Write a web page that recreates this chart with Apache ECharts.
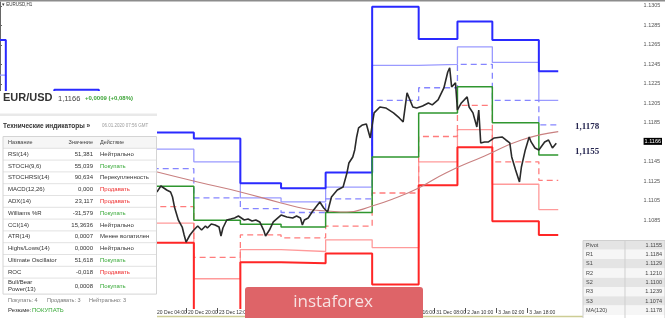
<!DOCTYPE html>
<html><head><meta charset="utf-8">
<script src="https://cdn.jsdelivr.net/npm/echarts@6/dist/echarts.min.js"></script>
<style>html,body{margin:0;padding:0;background:#fff}#c{width:665px;height:318px}</style>
</head><body><div id="c"></div>
<script>
// ---- data: hourly bar index on the x axis ----
const dayStart = [0, 3, 28, 51, 76, 100, 124, 145, 168, 192, 216, 236, 254, 278];
const lastBar = 288;
const levelR3 = [1.1270, 1.1213, 1.1219, 1.1205, 1.1175, 1.1169, 1.1123, 1.1118, 1.1134, 1.1304, 1.1271, 1.1289, 1.1270, 1.1238];
const levelR2 = [1.1234, 1.1190, 1.1195, 1.1185, 1.1158, 1.1145, 1.1108, 1.1104, 1.1119, 1.1244, 1.1245, 1.1263, 1.1247, 1.1208];
const levelR1 = [1.1205, 1.1170, 1.1172, 1.1165, 1.1138, 1.1108, 1.1097, 1.1093, 1.1107, 1.1208, 1.1221, 1.1245, 1.1208, 1.1183];
const levelP  = [1.1170, 1.1145, 1.1150, 1.1140, 1.1120, 1.1085, 1.1081, 1.1078, 1.1093, 1.1150, 1.1195, 1.1222, 1.1185, 1.1152];
const levelS1 = [1.1140, 1.1120, 1.1125, 1.1118, 1.1099, 1.1047, 1.1070, 1.1067, 1.1079, 1.1113, 1.1171, 1.1203, 1.1145, 1.1126];
const levelS2 = [1.1105, 1.1095, 1.1100, 1.1095, 1.1082, 1.1025, 1.1055, 1.1053, 1.1065, 1.1057, 1.1145, 1.1178, 1.1122, 1.1096];
const levelS3 = [1.1075, 1.1070, 1.1075, 1.1070, 1.1062, 1.0987, 1.1042, 1.1041, 1.1051, 1.1019, 1.1121, 1.1160, 1.1084, 1.1070];

const priceIdx = [77,79,81,83,86,88,89,90,92,94,95,96,98,100,102,104,106,107,109,111,113,114,115,117,119,121,123,124,126,128,130,132,134,136,137,139,141,142,145,148,151,153,155,156,157,159,161,163,165,167,169,171,174,177,179,180,182,183,184,185,187,189,191,193,196,199,203,206,208,210,213,215,218,221,223,226,229,231,232,233,235,236,238,241,242,244,246,247,248,250,252,255,259,261,263,264,266,268,269,271,273,274,276,278,281,283,285,287];
const priceVal = [1.11161,1.1118,1.11141,1.11202,1.11161,1.11141,1.11089,1.10987,1.10853,1.10781,1.10699,1.10627,1.10699,1.10750,1.10792,1.10750,1.10792,1.10771,1.10812,1.10802,1.10781,1.10689,1.10771,1.10853,1.10863,1.10874,1.10894,1.10884,1.10853,1.10863,1.10843,1.10853,1.10833,1.10750,1.10689,1.10750,1.10833,1.10853,1.10904,1.10884,1.10874,1.10894,1.10874,1.10802,1.10853,1.10874,1.10935,1.10987,1.11038,1.10976,1.10935,1.11089,1.11161,1.11192,1.11336,1.11438,1.11500,1.11572,1.11705,1.11798,1.11828,1.11839,1.11695,1.11952,1.12013,1.12003,1.11952,1.11900,1.11859,1.12157,1.12013,1.12003,1.12023,1.12054,1.12034,1.12085,1.12208,1.12372,1.12414,1.12218,1.12260,1.11982,1.12054,1.12116,1.12013,1.11952,1.11808,1.11982,1.11644,1.11654,1.11654,1.11695,1.11705,1.11674,1.11644,1.11500,1.11366,1.11243,1.11397,1.11572,1.11705,1.11654,1.11592,1.11572,1.11654,1.11674,1.11592,1.11640];

const maIdx = [77,102,124,145,158,169,179,192,204,216,230,250,269,288];
const maVal = [1.11366,1.11243,1.11141,1.11028,1.10966,1.10946,1.10935,1.10997,1.11079,1.11182,1.11336,1.11510,1.11674,1.11760];

const currentPrice = 1.1166;
const yTicks = [1.1085,1.1105,1.1125,1.1145,currentPrice,1.1185,1.1205,1.1225,1.1245,1.1265,1.1285,1.1305];
const xTickIdx = [80,96,112,128,144,160,176,192,208,224,240,256,272];
const xTickLabels = ['20 Dec 04:00','20 Dec 20:00','23 Dec 12:00','24 Dec 04:00','24 Dec 20:00','26 Dec 12:00','27 Dec 04:00','27 Dec 20:00','30 Dec 16:00','31 Dec 08:00','2 Jan 10:00','3 Jan 02:00','3 Jan 18:00'];

const indNames = ['RSI(14)','STOCH(9,6)','STOCHRSI(14)','MACD(12,26)','ADX(14)','Williams %R','CCI(14)','ATR(14)','Highs/Lows(14)','Ultimate Oscillator','ROC','Bull/Bear\nPower(13)'];
const indValues = ['51,381','55,039','90,634','0,000','23,117','-31,579','15,3636','0,0007','0,0000','51,618','-0,018','0,0008'];
const indActions = ['Нейтрально','Покупать','Перекупленность','Продавать','Продавать','Покупать','Нейтрально','Менее волатилен','Нейтрально','Покупать','Продавать','Покупать'];
const pivotNames = ['Pivot','R1','S1','R2','S2','R3','S3','MA(120)'];
const pivotValues = ['1.1155','1.1184','1.1129','1.1210','1.1100','1.1239','1.1074','1.1178'];
const noteLevels = ['1,1178','1,1155'];

// ---- build ----
function steps(arr){ const d = dayStart.map((x,i)=>[x, arr[i]]); d.push([lastBar, arr[arr.length-1]]); return d; }
function levelSeries(name, arr, color, width, type){
  return {name, type:'line', step:'end', data:steps(arr), showSymbol:false, silent:true, z:2,
    lineStyle:{color, width, type: type || 'solid'}};
}
const FONT = '"Liberation Sans", Arial, sans-serif';
const G = [];
function rect(x,y,w,h,fill,stroke){ G.push({type:'rect', z:99, shape:{x,y,width:w,height:h}, style:{fill:fill||'transparent', stroke:stroke||'transparent', lineWidth:stroke?1:0}}); }
function hline(x1,y1,x2,y2,color,w){ G.push({type:'line', z:99, shape:{x1,y1,x2,y2}, style:{stroke:color, lineWidth:w||1}}); }
function txt(x,y,text,opt){ G.push({type:'text', z:100, x, y, style:Object.assign({text, fontSize:6, fontFamily:FONT, fill:'#333', align:'left', verticalAlign:'middle'}, opt||{})}); }

// top bar
rect(0,0,665,1.5,'#8c8c8c');
txt(2,5,'▾ EURUSD,H1',{fontSize:4.5,fill:'#333'});
// header + indicator panel
rect(0,91,157,227,'#ffffff');
txt(3,98,'EUR/USD',{fontSize:11,fontWeight:'bold',fill:'#333'});
txt(58,98.5,'1,1166',{fontSize:7.5,fill:'#444'});
txt(85,98.5,'+0,0009 (+0,08%)',{fontSize:6,fontWeight:'bold',fill:'#3ba336'});
rect(0,113.5,157,2.5,'#e9e9e9');
txt(3,126,'Технические индикаторы »',{fontSize:6.5,fontWeight:'bold',fill:'#333'});
txt(102,126,'06.01.2020 07:56 GMT',{fontSize:4.5,fill:'#9a9a9a'});
const rowH = 11.8, tTop = 136.5;
rect(3,tTop,153.5,rowH,'#f6f6f6');
txt(8,tTop+rowH/2,'Название',{fontSize:5.5,fill:'#444'});
txt(93,tTop+rowH/2,'Значение',{fontSize:5.5,fill:'#444',align:'right'});
txt(100,tTop+rowH/2,'Действие',{fontSize:5.5,fill:'#444'});
indNames.forEach((n,i)=>{
  const top = tTop + rowH*(i+1);
  const h = (i === indNames.length-1) ? 16 : rowH;
  hline(3,top,156.5,top,'#e2e2e2',1);
  const cy = top + h/2;
  const a = indActions[i];
  const col = a === 'Покупать' ? '#36a836' : (a === 'Продавать' ? '#ee2c2c' : '#333');
  txt(8,cy,n,{fontSize:6,fill:'#333',lineHeight:7.2});
  txt(93,cy,indValues[i],{fontSize:6,fill:'#333',align:'right'});
  txt(100,cy,a,{fontSize:6,fill:col});
});
const tBottom = tTop + rowH*indNames.length + 16;
rect(3,tTop,153.5,tBottom-tTop,null,'#d4d4d4');
txt(8,300.7,'Покупать: 4',{fontSize:5.5,fill:'#777'});
txt(47,300.7,'Продавать: 3',{fontSize:5.5,fill:'#777'});
txt(89,300.7,'Нейтрально: 3',{fontSize:5.5,fill:'#777'});
txt(8,310,'Резюме:',{fontSize:6,fill:'#333'});
txt(32,310,'ПОКУПАТЬ',{fontSize:6,fill:'#36a836'});
// bottom strip
hline(157,316.5,583,316.5,'#cdcd95',1.5);
// watermark
G.push({type:'rect', z:99, shape:{x:245,y:287,width:178,height:32,r:[3,3,0,0]}, style:{fill:'#de6468'}});
txt(333,302,'instaforex',{fontSize:17,fill:'#f7e2e2',align:'center',fontFamily:'"Open Sans", sans-serif'});
// pivot table
pivotNames.forEach((n,i)=>{
  const top = 240.5 + i*9.3;
  rect(583,top,82,9.3,i%2===0?'#e4e4e4':'#f6f6f6');
  txt(586,top+4.8,n,{fontSize:5.5,fill:'#444'});
  txt(662,top+4.8,pivotValues[i],{fontSize:5.5,fill:'#444',align:'right'});
});
hline(625,240.5,625,318,'#cfcfcf',1);
rect(583,240.5,82,78,null,'#cfcfcf');
// annotations
txt(575,127,noteLevels[0],{fontSize:9,fontWeight:'bold',fill:'#25254f',fontFamily:'"Liberation Serif", serif'});
txt(575,152,noteLevels[1],{fontSize:9,fontWeight:'bold',fill:'#25254f',fontFamily:'"Liberation Serif", serif'});

const chart = echarts.init(document.getElementById('c'), null, {renderer:'canvas'});
chart.setOption({
  animation:false,
  backgroundColor:'#ffffff',
  grid:{left:0,right:17,top:2,bottom:10},
  xAxis:{type:'value',min:0,max:331,splitLine:{show:false},
    axisLine:{show:false},
    axisTick:{show:true,customValues:xTickIdx,length:5,lineStyle:{color:'#555',width:1}},
    axisLabel:{customValues:xTickIdx,fontSize:5,color:'#333',align:'left',margin:2.5,padding:[0,0,0,2],fontFamily:FONT,
      formatter:v=>{const k=xTickIdx.indexOf(Math.round(v));return k>=0?xTickLabels[k]:'';}}},
  yAxis:{type:'value',position:'right',min:1.0995,max:1.1309,scale:true,splitLine:{show:false},
    axisLine:{show:true,lineStyle:{color:'#666',width:1}},
    axisTick:{show:true,customValues:yTicks,length:2,lineStyle:{color:'#666'}},
    axisLabel:{customValues:yTicks,fontSize:5.5,color:'#555',margin:2,fontFamily:FONT,
      formatter:v=>Math.abs(v-currentPrice)<1e-7?'{hl|'+v.toFixed(4)+'}':v.toFixed(4),
      rich:{hl:{backgroundColor:'#000',color:'#fff',fontSize:5.5,padding:[1,1,0,1]}}}},
  series:[
    levelSeries('S2',levelS2,'#ff9a9a',1.3),
    levelSeries('R2',levelR2,'#9a9aff',1.3),
    levelSeries('S1',levelS1,'#ff7c7c',1.3,[6,4]),
    levelSeries('R1',levelR1,'#8585ff',1.3,[6,4]),
    levelSeries('S3',levelS3,'#ff2626',2),
    levelSeries('R3',levelR3,'#2a2aff',2),
    levelSeries('Pivot',levelP,'#2f962f',1.5),
    {name:'MA(120)',type:'line',smooth:true,data:maIdx.map((x,i)=>[x,maVal[i]]),showSymbol:false,silent:true,z:3,
      lineStyle:{color:'#c98080',width:1.1}},
    {name:'EURUSD',type:'line',data:priceIdx.map((x,i)=>[x,priceVal[i]]),showSymbol:false,silent:true,z:4,
      lineStyle:{color:'#2a2a2a',width:1.6}}
  ],
  graphic:{elements:G}
});
</script>
</body></html>
